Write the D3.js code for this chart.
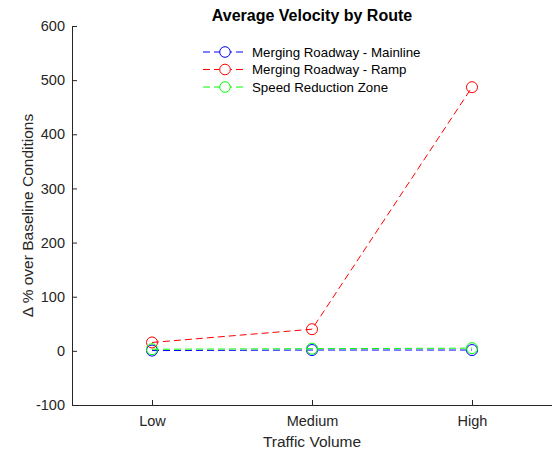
<!DOCTYPE html>
<meta charset="utf-8">
<script src="https://cdn.jsdelivr.net/npm/d3@7"></script>
<style>
body { margin: 0; background: #fff; }
text { font-family: "Liberation Sans", Arial, sans-serif; fill: #262626; }
.axis path, .axis line { stroke: #262626; }
.axis text { font-size: 14.5px; }
</style>
<body>
<div id="chart"></div>
<script>
// data
var categories = ["Low", "Medium", "High"];
var mainline = [0.5, 1.5, 1.5];
var ramp = [15.5, 40, 487];
var speedZone = [3, 4, 5];
var yTicks = [-100, 0, 100, 200, 300, 400, 500, 600];

var series = [
  {name: "Merging Roadway - Mainline", values: mainline, color: "#0000ff"},
  {name: "Merging Roadway - Ramp", values: ramp, color: "#ff0000"},
  {name: "Speed Reduction Zone", values: speedZone, color: "#00ff00"}
];

var width = 552, height = 456;
var margin = {top: 26, right: 0, bottom: 51, left: 72};

var svg = d3.select("#chart").append("svg")
  .attr("width", width)
  .attr("height", height);

var x = d3.scaleLinear()
  .domain([0.5, categories.length + 0.5])
  .range([margin.left, width - margin.right]);

var y = d3.scaleLinear()
  .domain([-100, 600])
  .range([height - margin.bottom, margin.top]);

// axes, ticks pointing inward
svg.append("g")
  .attr("class", "axis")
  .attr("transform", "translate(0," + (height - margin.bottom) + ")")
  .call(d3.axisBottom(x)
    .tickValues(categories.map(function(d, i) { return i + 1; }))
    .tickFormat(function(d) { return categories[d - 1]; })
    .tickSizeInner(-5).tickSizeOuter(0).tickPadding(11));

svg.append("g")
  .attr("class", "axis")
  .attr("transform", "translate(" + margin.left + ",0)")
  .call(d3.axisLeft(y)
    .tickValues(yTicks)
    .tickFormat(function(d) { return String(d); })  // plain hyphen, not the unicode minus
    .tickSizeInner(-5).tickSizeOuter(0).tickPadding(7));

// lines + markers
var line = d3.line()
  .x(function(d, i) { return x(i + 1); })
  .y(function(d) { return y(d); });

series.forEach(function(s) {
  svg.append("path")
    .attr("d", line(s.values))
    .attr("fill", "none")
    .attr("stroke", s.color)
    .attr("stroke-width", 1)
    .attr("stroke-dasharray", "7,4");

  svg.selectAll(null)
    .data(s.values)
    .enter().append("circle")
    .attr("cx", function(d, i) { return x(i + 1); })
    .attr("cy", function(d) { return y(d); })
    .attr("r", 5.5)
    .attr("fill", "none")
    .attr("stroke", s.color)
    .attr("stroke-width", 1);
});

// title and labels
svg.append("text")
  .attr("x", (margin.left + width - margin.right) / 2)
  .attr("y", 21)
  .attr("text-anchor", "middle")
  .style("font-size", "16px")
  .style("font-weight", "bold")
  .style("fill", "#000")
  .text("Average Velocity by Route");

svg.append("text")
  .attr("x", (margin.left + width - margin.right) / 2)
  .attr("y", 447)
  .attr("text-anchor", "middle")
  .style("font-size", "15.5px")
  .text("Traffic Volume");

svg.append("text")
  .attr("transform", "translate(33," + ((margin.top + height - margin.bottom) / 2) + ") rotate(-90)")
  .attr("text-anchor", "middle")
  .style("font-size", "15.5px")
  .text("\u0394 % over Baseline Conditions");

// legend
var legend = svg.append("g").attr("transform", "translate(203,52)");
series.forEach(function(s, i) {
  var g = legend.append("g").attr("transform", "translate(0," + (i * 17.5) + ")");
  g.append("line")
    .attr("x1", 0).attr("x2", 44)
    .attr("stroke", s.color)
    .attr("stroke-dasharray", "7,4");
  g.append("circle")
    .attr("cx", 22).attr("r", 5.3)
    .attr("fill", "#fff")
    .attr("stroke", s.color);
  g.append("text")
    .attr("x", 49)
    .attr("dy", "0.35em")
    .style("font-size", "13.3px")
    .style("fill", "#000")
    .text(s.name);
});
</script>
</body>
</html>
